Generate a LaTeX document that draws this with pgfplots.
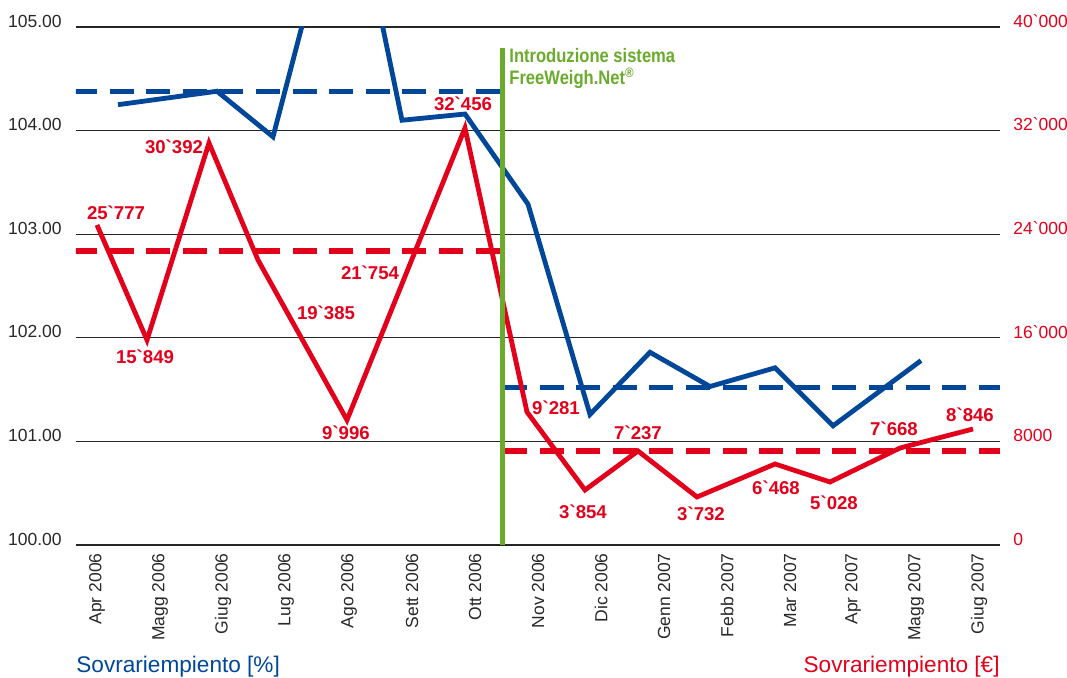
\documentclass[border=0pt]{standalone}
\usepackage{pgfplots}
\pgfplotsset{compat=1.18}
\usepackage{fontspec}
\setmainfont{Liberation Sans}
\newfontfamily\condfont{Liberation Sans}[FakeStretch=0.85]
\definecolor{cblue}{RGB}{0,71,153}
\definecolor{cred}{RGB}{227,0,27}
\definecolor{cgreen}{RGB}{106,171,43}
\definecolor{cgrey}{RGB}{40,40,40}
\newcommand{\g}{\textasciigrave}
\tikzset{lbl/.style={font=\bfseries\fontsize{9.3}{10}\selectfont, text=cred, inner sep=0pt}}
\begin{document}
\begin{tikzpicture}
\path[use as bounding box] (-38pt,-66.5pt) rectangle (495.5pt,272.5pt);
% ---------- left axis (%) ----------
\begin{axis}[
  at={(0pt,0pt)}, anchor=south west,
  scale only axis, width=462pt, height=259pt,
  xmin=76, xmax=1000, ymin=100, ymax=105,
  axis line style={draw=none},
  major tick length=0pt,
  xtick={97,160,223,286,349,412,475,538,601,664,727,790,853,916,979},
  xticklabels={Apr 2006,Magg 2006,Giug 2006,Lug 2006,Ago 2006,Sett 2006,Ott 2006,Nov 2006,Dic 2006,Genn 2007,Febb 2007,Mar 2007,Apr 2007,Magg 2007,Giug 2007},
  xticklabel style={rotate=90, anchor=east, inner sep=0pt, font=\fontsize{8.75}{10}\selectfont, text=cgrey},
  xticklabel shift=4pt,
  ytick={100,101,102,103,104,105},
  yticklabels={100.00,101.00,102.00,103.00,104.00,105.00},
  yticklabel style={anchor=east, inner sep=0pt, font=\fontsize{8.75}{10}\selectfont, text=cgrey, yshift=3pt},
  yticklabel shift=7pt,
  ymajorgrids, grid style={black!85, line width=0.6pt},
]
\addplot[cblue, line width=2.6pt, dash pattern=on 12pt off 6.3pt] coordinates {(73,104.38) (500,104.38)};
\addplot[cblue, line width=2.6pt, dash pattern=on 12pt off 6.3pt] coordinates {(503,101.52) (1000,101.52)};
\addplot[cblue, line width=2.4pt, line join=miter] coordinates {
 (118,104.25) (217,104.38) (273,103.94) (347,106.67) (402,104.10) (465,104.16)
 (528,103.29) (590,101.26) (650,101.86) (710,101.53) (775,101.71) (833,101.15) (921,101.78)};
\end{axis}
% ---------- right axis (EUR) ----------
\begin{axis}[
  at={(0pt,0pt)}, anchor=south west,
  scale only axis, width=462pt, height=259pt,
  xmin=76, xmax=1000, ymin=0, ymax=40000,
  axis line style={draw=none},
  hide x axis,
  major tick length=0pt,
  scaled y ticks=false,
  ytick={0,8000,16000,24000,32000,40000},
  yticklabels={0,8000,16\g000,24\g000,32\g000,40\g000},
  yticklabel pos=right,
  yticklabel style={anchor=west, inner sep=0pt, font=\fontsize{8.75}{10}\selectfont, text=cred, yshift=3pt},
  yticklabel shift=6.5pt,
]
\addplot[cred, line width=2.6pt, dash pattern=on 12pt off 6.3pt] coordinates {(73,22703) (500,22703)};
\addplot[cred, line width=2.6pt, dash pattern=on 12pt off 6.3pt] coordinates {(503,7259) (1000,7259)};
\addplot[cred, line width=2.4pt, line join=miter] coordinates {
 (97,24711) (147,15830) (209,31042) (258,22008) (347,9653) (465,32201)
 (527,10270) (585,4247) (638,7259) (697,3707) (775,6255) (830,4865) (900,7490) (973,8958)};
\addplot[cgreen, line width=2.5pt] coordinates {(502,0) (502,38380)};
\node[lbl] at (axis cs:116,25637) {25\g777};
\node[lbl] at (axis cs:174,30734) {30\g392};
\node[lbl] at (axis cs:145,14517) {15\g849};
\node[lbl] at (axis cs:326,17915) {19\g385};
\node[lbl] at (axis cs:370,21004) {21\g754};
\node[lbl] at (axis cs:346,8649) {9\g996};
\node[lbl] at (axis cs:463,34054) {32\g456};
\node[lbl] at (axis cs:556,10579) {9\g281};
\node[lbl] at (axis cs:583,2548) {3\g854};
\node[lbl] at (axis cs:638,8649) {7\g237};
\node[lbl] at (axis cs:701,2394) {3\g732};
\node[lbl] at (axis cs:776,4402) {6\g468};
\node[lbl] at (axis cs:834,3243) {5\g028};
\node[lbl] at (axis cs:894,8958) {7\g668};
\node[lbl] at (axis cs:970,10039) {8\g846};
\end{axis}
% ---------- annotations ----------
\node[anchor=base west, inner sep=0pt, text=cgreen, font=\condfont\bfseries\fontsize{9.75}{11}\selectfont] at (216.5pt,241pt) {Introduzione sistema};
\node[anchor=base west, inner sep=0pt, text=cgreen, font=\condfont\bfseries\fontsize{9.75}{11}\selectfont] at (216.5pt,230pt) {FreeWeigh.Net\textsuperscript{®}};
\node[anchor=base west, inner sep=0pt, text=cblue, font=\fontsize{11.3}{13}\selectfont] at (0pt,-64pt) {Sovrariempiento [\%]};
\node[anchor=base east, inner sep=0pt, text=cred, font=\fontsize{11.3}{13}\selectfont] at (462pt,-64pt) {Sovrariempiento [€]};
\end{tikzpicture}
\end{document}
